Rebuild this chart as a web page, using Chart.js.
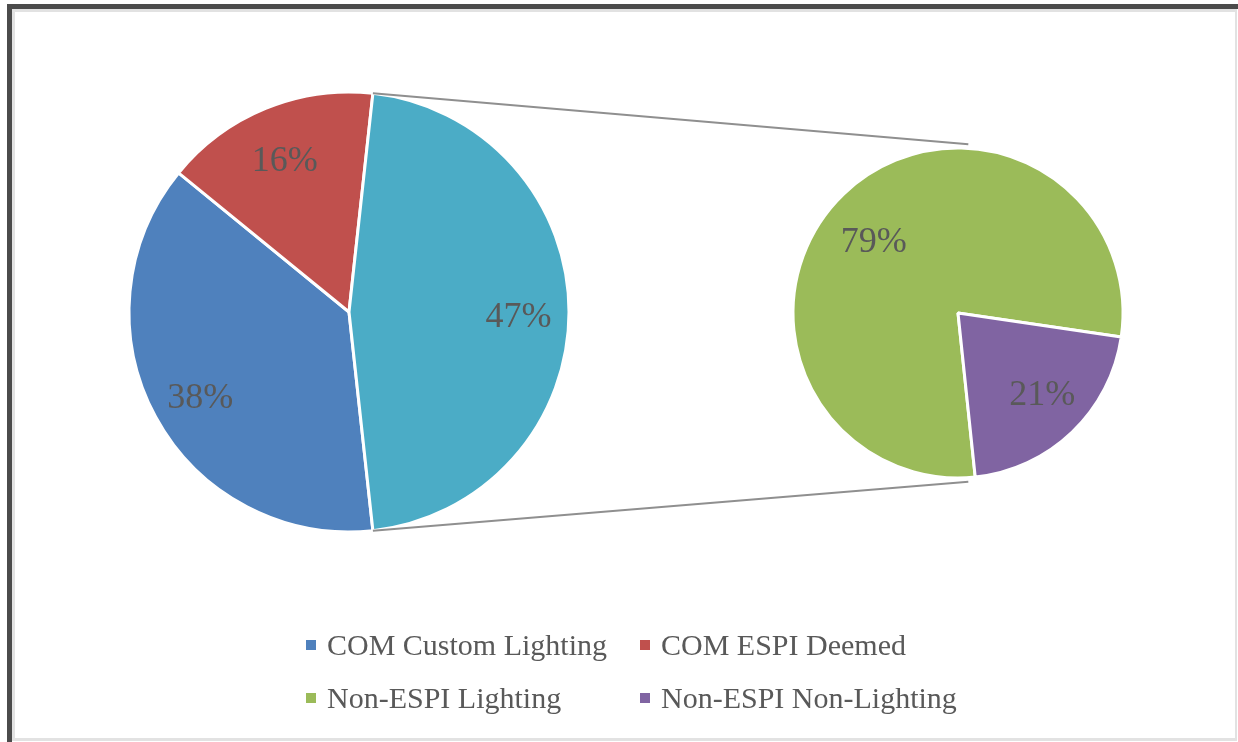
<!DOCTYPE html>
<html>
<head>
<meta charset="utf-8">
<script src="https://cdn.jsdelivr.net/npm/chart.js@4"></script>
<style>
    html, body { margin: 0; padding: 0; background: #fff; }
    body { width: 1238px; height: 742px; position: relative; overflow: hidden; }
    .moldura {
        position: absolute; left: 7px; top: 4px; right: 0; bottom: 0;
        border-top: 5px solid #4b4b4b; border-left: 5px solid #4b4b4b;
    }
    .moldura-int {
        position: absolute; left: 0; top: 0; right: 1px; bottom: 1px;
        border: 3px solid #e2e2e2; border-right-width: 2px;
    }
    canvas { position: absolute; left: 0; top: 0; }
    #legenda {
        position: absolute; left: 306px; top: 626px;
        display: grid; grid-template-columns: 334px auto; row-gap: 16px;
        font-family: "Liberation Serif", "Times New Roman", serif; font-size: 30px; color: #595959;
    }
    #legenda .item { display: flex; align-items: center; height: 37px; white-space: nowrap; }
    #legenda .cor { width: 10px; height: 10px; margin-right: 11px; flex: none; }
</style>
</head>
<body>
<div class="moldura"><div class="moldura-int"></div></div>
<canvas id="chart1" width="1238" height="742"></canvas>
<canvas id="chart2" width="1238" height="742"></canvas>
<div id="legenda"></div>

<script>
// Pizza principal
const labelsPrincipal = ['COM Custom Lighting', 'COM ESPI Deemed', 'Outros'];
const valoresPrincipal = [38, 16, 47];
const coresPrincipal = ['#4F81BD', '#C0504D', '#4BACC6'];

// Pizza secundária (detalhe da fatia "Outros")
const labelsSecundaria = ['Non-ESPI Lighting', 'Non-ESPI Non-Lighting'];
const valoresSecundaria = [79, 21];
const coresSecundaria = ['#9BBB59', '#8064A2'];

const fonteRotulo = '36px "Liberation Serif", "Times New Roman", serif';
const corTexto = '#595959';

// Rótulos de porcentagem dentro das fatias
const rotulosPlugin = {
    id: 'rotulos',
    afterDatasetsDraw(chart, args, opts) {
        const ctx = chart.ctx;
        const meta = chart.getDatasetMeta(0);
        const valores = chart.data.datasets[0].data;
        ctx.save();
        ctx.font = fonteRotulo;
        ctx.fillStyle = corTexto;
        ctx.textAlign = 'center';
        ctx.textBaseline = 'middle';
        meta.data.forEach((arco, i) => {
            const meio = (arco.startAngle + arco.endAngle) / 2 + (opts.giro || 0) * Math.PI / 180;
            const r = arco.outerRadius * opts.fator;
            ctx.fillText(valores[i] + '%', arco.x + Math.cos(meio) * r, arco.y + Math.sin(meio) * r + 6);
        });
        ctx.restore();
    }
};

// Somente a fatia "Outros" fica centrada à direita (3 horas)
const totalPrincipal = valoresPrincipal.reduce((a, b) => a + b, 0);
const rotacaoPrincipal = 90 + (valoresPrincipal[2] / totalPrincipal) * 180;

const chart1 = new Chart(document.getElementById('chart1').getContext('2d'), {
    type: 'pie',
    data: {
        labels: labelsPrincipal,
        datasets: [{
            data: valoresPrincipal,
            backgroundColor: coresPrincipal,
            borderColor: '#FFFFFF',
            borderWidth: 3
        }]
    },
    options: {
        responsive: false,
        animation: false,
        radius: 220,
        rotation: rotacaoPrincipal,
        layout: { padding: { left: 129, right: 669, top: 92, bottom: 210 } },
        plugins: { legend: { display: false }, tooltip: { enabled: false }, rotulos: { fator: 0.77 } },
        events: []
    },
    plugins: [rotulosPlugin]
});

// Linhas ligando a fatia "Outros" à pizza secundária
const conectoresPlugin = {
    id: 'conectores',
    beforeDatasetsDraw(chart) {
        const arcoOutros = chart1.getDatasetMeta(0).data[2];
        const arco2 = chart.getDatasetMeta(0).data[0];
        if (!arcoOutros || !arco2) return;
        const r1 = arcoOutros.outerRadius;
        const r2 = arco2.outerRadius + 4;
        const desvio = 3.5 * Math.PI / 180;
        const ini1 = [arcoOutros.x + Math.cos(arcoOutros.startAngle) * r1, arcoOutros.y + Math.sin(arcoOutros.startAngle) * r1];
        const ini2 = [arcoOutros.x + Math.cos(arcoOutros.endAngle) * r1, arcoOutros.y + Math.sin(arcoOutros.endAngle) * r1];
        const fim1 = [arco2.x + Math.cos(-Math.PI / 2 + desvio) * r2, arco2.y + Math.sin(-Math.PI / 2 + desvio) * r2];
        const fim2 = [arco2.x + Math.cos(Math.PI / 2 - desvio) * r2, arco2.y + Math.sin(Math.PI / 2 - desvio) * r2];
        const ctx = chart.ctx;
        ctx.save();
        ctx.strokeStyle = '#8f8f8f';
        ctx.lineWidth = 2;
        ctx.beginPath();
        ctx.moveTo(ini1[0], ini1[1]);
        ctx.lineTo(fim1[0], fim1[1]);
        ctx.moveTo(ini2[0], ini2[1]);
        ctx.lineTo(fim2[0], fim2[1]);
        ctx.stroke();
        ctx.restore();
    }
};

const chart2 = new Chart(document.getElementById('chart2').getContext('2d'), {
    type: 'pie',
    data: {
        labels: labelsSecundaria,
        datasets: [{
            data: valoresSecundaria,
            backgroundColor: coresSecundaria,
            borderColor: '#FFFFFF',
            borderWidth: 3
        }]
    },
    options: {
        responsive: false,
        animation: false,
        radius: 165,
        rotation: 174,
        layout: { padding: { left: 793, right: 115, top: 148, bottom: 264 } },
        plugins: { legend: { display: false }, tooltip: { enabled: false }, rotulos: { fator: 0.69, giro: -4 } },
        events: []
    },
    plugins: [conectoresPlugin, rotulosPlugin]
});

// Legenda em grade (2 colunas)
const legenda = document.getElementById('legenda');
const itensLegenda = [
    [labelsPrincipal[0], coresPrincipal[0]],
    [labelsPrincipal[1], coresPrincipal[1]],
    [labelsSecundaria[0], coresSecundaria[0]],
    [labelsSecundaria[1], coresSecundaria[1]]
];
itensLegenda.forEach(([texto, cor]) => {
    const item = document.createElement('div');
    item.className = 'item';
    item.innerHTML = `<span class="cor" style="background:${cor}"></span><span>${texto}</span>`;
    legenda.appendChild(item);
});
</script>
</body>
</html>
